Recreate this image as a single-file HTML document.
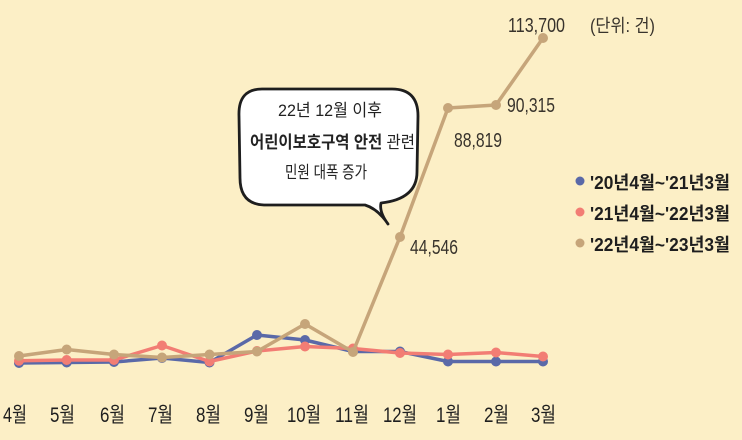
<!DOCTYPE html>
<html><head><meta charset="utf-8">
<style>
html,body{margin:0;padding:0;background:#FCEFC6;}
svg{display:block;}
text{font-family:"Liberation Sans","Noto Sans CJK KR",sans-serif;}
</style></head>
<body>
<svg width="742" height="440" viewBox="0 0 742 440" xmlns="http://www.w3.org/2000/svg">
<rect x="0" y="0" width="742" height="440" fill="#FCEFC6"/>

<!-- speech bubble -->
<path d="M262 89 Q238 89 239 116 L240 178 Q240 204 264 205 L365 205 Q378 209 388 224 Q379 212 381 203 Q417 199 417 172 L418 116 Q418 89 392 89 Z" fill="#ffffff" stroke="#1e1e1e" stroke-width="2.8" stroke-linejoin="round"/>
<text x="278" y="116" font-size="17" fill="#222" textLength="104" lengthAdjust="spacingAndGlyphs">22년 12월 이후</text>
<text x="250" y="148" font-size="17" fill="#222" textLength="165" lengthAdjust="spacingAndGlyphs"><tspan font-weight="bold">어린이보호구역 안전</tspan> 관련</text>
<text x="285" y="178" font-size="17" fill="#222" textLength="82" lengthAdjust="spacingAndGlyphs">민원 대폭 증가</text>

<!-- blue series -->
<g fill="#5A69A8" stroke="#5A69A8">
<polyline fill="none" stroke-width="3.5" stroke-linejoin="round" points="19,363 66.7,362.5 114,362 162,358 209.5,362.5 257,335 305,340 353,351.5 400,351.5 448,361.5 496,361.5 543,361.5"/>
<g stroke="none">
<circle cx="19" cy="363" r="5"/><circle cx="66.7" cy="362.5" r="5"/><circle cx="114" cy="362" r="5"/><circle cx="162" cy="358" r="5"/><circle cx="209.5" cy="362.5" r="5"/><circle cx="257" cy="335" r="5"/><circle cx="305" cy="340" r="5"/><circle cx="353" cy="351.5" r="5"/><circle cx="400" cy="351.5" r="5"/><circle cx="448" cy="361.5" r="5"/><circle cx="496" cy="361.5" r="5"/><circle cx="543" cy="361.5" r="5"/>
</g></g>

<!-- red series -->
<g fill="#F27D74" stroke="#F27D74">
<polyline fill="none" stroke-width="3.5" stroke-linejoin="round" points="19,360.7 66.7,360 114,360 162,345.5 209.5,361.5 257,351 305,346.5 353,348.5 400,353 448,354.5 496,352.5 543,356.5"/>
<g stroke="none">
<circle cx="19" cy="360.7" r="5"/><circle cx="66.7" cy="360" r="5"/><circle cx="114" cy="360" r="5"/><circle cx="162" cy="345.5" r="5"/><circle cx="209.5" cy="361.5" r="5"/><circle cx="257" cy="351" r="5"/><circle cx="305" cy="346.5" r="5"/><circle cx="353" cy="348.5" r="5"/><circle cx="400" cy="353" r="5"/><circle cx="448" cy="354.5" r="5"/><circle cx="496" cy="352.5" r="5"/><circle cx="543" cy="356.5" r="5"/>
</g></g>

<!-- tan series -->
<g fill="#C6A57A" stroke="#C6A57A">
<polyline fill="none" stroke-width="3.5" stroke-linejoin="round" points="19,356 66.7,349.5 114,354.5 162,357.5 209.5,354.5 257,351.5 305,324 353,352 400,237 448,108 496,105 543,38"/>
<g stroke="none">
<circle cx="19" cy="356" r="5"/><circle cx="66.7" cy="349.5" r="5"/><circle cx="114" cy="354.5" r="5"/><circle cx="162" cy="357.5" r="5"/><circle cx="209.5" cy="354.5" r="5"/><circle cx="257" cy="351.5" r="5"/><circle cx="305" cy="324" r="5"/><circle cx="353" cy="352" r="5"/><circle cx="400" cy="237" r="5"/><circle cx="448" cy="108" r="5"/><circle cx="496" cy="105" r="5"/><circle cx="543" cy="38" r="5"/>
</g></g>

<!-- value labels -->
<g fill="#38332c" font-size="20">
<text x="508" y="32" textLength="57" lengthAdjust="spacingAndGlyphs">113,700</text>
<text x="507" y="112" textLength="48" lengthAdjust="spacingAndGlyphs">90,315</text>
<text x="454" y="147" textLength="48" lengthAdjust="spacingAndGlyphs">88,819</text>
<text x="410" y="254" textLength="48" lengthAdjust="spacingAndGlyphs">44,546</text>
</g>
<text x="590" y="32" font-size="18" fill="#38332c" textLength="65" lengthAdjust="spacingAndGlyphs">(단위: 건)</text>

<!-- legend -->
<circle cx="580" cy="181" r="4.5" fill="#5A69A8"/>
<circle cx="580" cy="212" r="4.5" fill="#F27D74"/>
<circle cx="580" cy="243" r="4.5" fill="#C6A57A"/>
<g font-size="18" font-weight="bold" fill="#1e1e1e">
<text x="590" y="189" textLength="140" lengthAdjust="spacingAndGlyphs">'20년4월~'21년3월</text>
<text x="590" y="220" textLength="140" lengthAdjust="spacingAndGlyphs">'21년4월~'22년3월</text>
<text x="590" y="251" textLength="140" lengthAdjust="spacingAndGlyphs">'22년4월~'23년3월</text>
</g>

<!-- x axis labels -->
<g font-size="21" fill="#1e1e1e">
<text x="3" y="422" textLength="24" lengthAdjust="spacingAndGlyphs">4월</text>
<text x="50" y="422" textLength="25" lengthAdjust="spacingAndGlyphs">5월</text>
<text x="100" y="422" textLength="25" lengthAdjust="spacingAndGlyphs">6월</text>
<text x="148" y="422" textLength="25" lengthAdjust="spacingAndGlyphs">7월</text>
<text x="196" y="422" textLength="25" lengthAdjust="spacingAndGlyphs">8월</text>
<text x="244" y="422" textLength="25" lengthAdjust="spacingAndGlyphs">9월</text>
<text x="287" y="422" textLength="34" lengthAdjust="spacingAndGlyphs">10월</text>
<text x="335" y="422" textLength="34" lengthAdjust="spacingAndGlyphs">11월</text>
<text x="383" y="422" textLength="34" lengthAdjust="spacingAndGlyphs">12월</text>
<text x="436" y="422" textLength="25" lengthAdjust="spacingAndGlyphs">1월</text>
<text x="484" y="422" textLength="25" lengthAdjust="spacingAndGlyphs">2월</text>
<text x="531" y="422" textLength="25" lengthAdjust="spacingAndGlyphs">3월</text>
</g>
</svg>
</body></html>
